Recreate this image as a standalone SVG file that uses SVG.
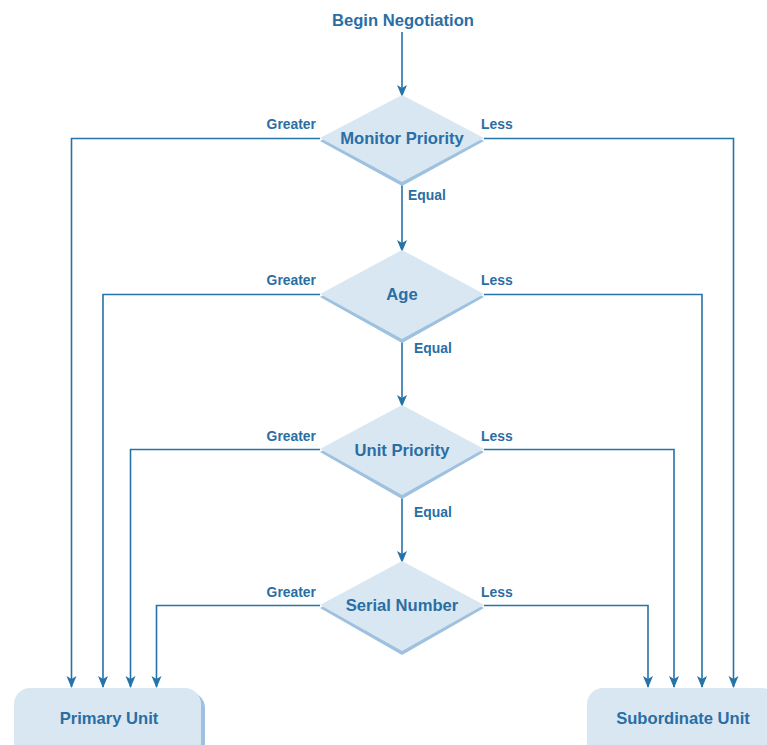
<svg xmlns="http://www.w3.org/2000/svg" width="767" height="745" viewBox="0 0 767 745">
<style>
.t{font-family:"Liberation Sans",Arial,sans-serif;font-weight:bold;fill:#2a6ea4;}
.n{font-size:16.6px;text-anchor:middle;}
.l{font-size:13.9px;}
.c{fill:none;stroke:#2673a8;stroke-width:1.6;}
.d{fill:#d9e7f2;}
.s{fill:#9dc1df;}
</style>
<defs>
<marker id="ah" viewBox="0 0 12 12" refX="11" refY="6" markerWidth="12" markerHeight="12" markerUnits="userSpaceOnUse" orient="auto">
<path d="M0,1 L12,6 L0,11 L3,6 Z" fill="#2673a8"/>
</marker>
</defs>
<g id="connectors">
<path class="c" d="M402,32 V96" marker-end="url(#ah)"/>
<path class="c" d="M402,185 V251" marker-end="url(#ah)"/>
<path class="c" d="M402,341 V406" marker-end="url(#ah)"/>
<path class="c" d="M402,497 V562" marker-end="url(#ah)"/>
<path class="c" d="M320,138.5 H71.5 V687" marker-end="url(#ah)"/>
<path class="c" d="M484,138.5 H733.5 V687" marker-end="url(#ah)"/>
<path class="c" d="M320,294.5 H103 V687" marker-end="url(#ah)"/>
<path class="c" d="M484,294.5 H702 V687" marker-end="url(#ah)"/>
<path class="c" d="M320,449.5 H130.5 V687" marker-end="url(#ah)"/>
<path class="c" d="M484,449.5 H674 V687" marker-end="url(#ah)"/>
<path class="c" d="M320,605.5 H156.5 V687" marker-end="url(#ah)"/>
<path class="c" d="M484,605.5 H648 V687" marker-end="url(#ah)"/>
<text class="t l" x="316" y="129" text-anchor="end">Greater</text>
<text class="t l" x="481" y="129">Less</text>
<text class="t l" x="408" y="200">Equal</text>
<text class="t l" x="316" y="285" text-anchor="end">Greater</text>
<text class="t l" x="481" y="285">Less</text>
<text class="t l" x="414" y="353">Equal</text>
<text class="t l" x="316" y="441" text-anchor="end">Greater</text>
<text class="t l" x="481" y="441">Less</text>
<text class="t l" x="414" y="517">Equal</text>
<text class="t l" x="316" y="597" text-anchor="end">Greater</text>
<text class="t l" x="481" y="597">Less</text>
</g>
<g id="begin">
<text class="t n" x="403" y="26">Begin Negotiation</text>
</g>
<g id="monitor">
<polygon class="s" points="402,99 484,141 402,186 320,141"/>
<polygon class="d" points="402,95 484,138 402,182 320,138"/>
<text class="t n" x="402" y="144">Monitor Priority</text>
</g>
<g id="age">
<polygon class="s" points="402,253 484,297 402,343 320,297"/>
<polygon class="d" points="402,250 484,294 402,339 320,294"/>
<text class="t n" x="402" y="300">Age</text>
</g>
<g id="unit">
<polygon class="s" points="402,409 484,452 402,499 320,452"/>
<polygon class="d" points="402,405 484,449 402,495 320,449"/>
<text class="t n" x="402" y="456">Unit Priority</text>
</g>
<g id="serial">
<polygon class="s" points="402,565 484,608 402,655 320,608"/>
<polygon class="d" points="402,561 484,605 402,651 320,605"/>
<text class="t n" x="402" y="611">Serial Number</text>
</g>
<g id="primary">
<rect class="s" x="18" y="692" width="187" height="70" rx="16"/>
<rect class="d" x="14" y="688" width="187" height="70" rx="16"/>
<text class="t n" x="109" y="724">Primary Unit</text>
</g>
<g id="subordinate">
<rect class="s" x="591" y="692" width="190" height="70" rx="16"/>
<rect class="d" x="587" y="688" width="190" height="70" rx="16"/>
<text class="t n" x="683" y="724">Subordinate Unit</text>
</g>
</svg>
